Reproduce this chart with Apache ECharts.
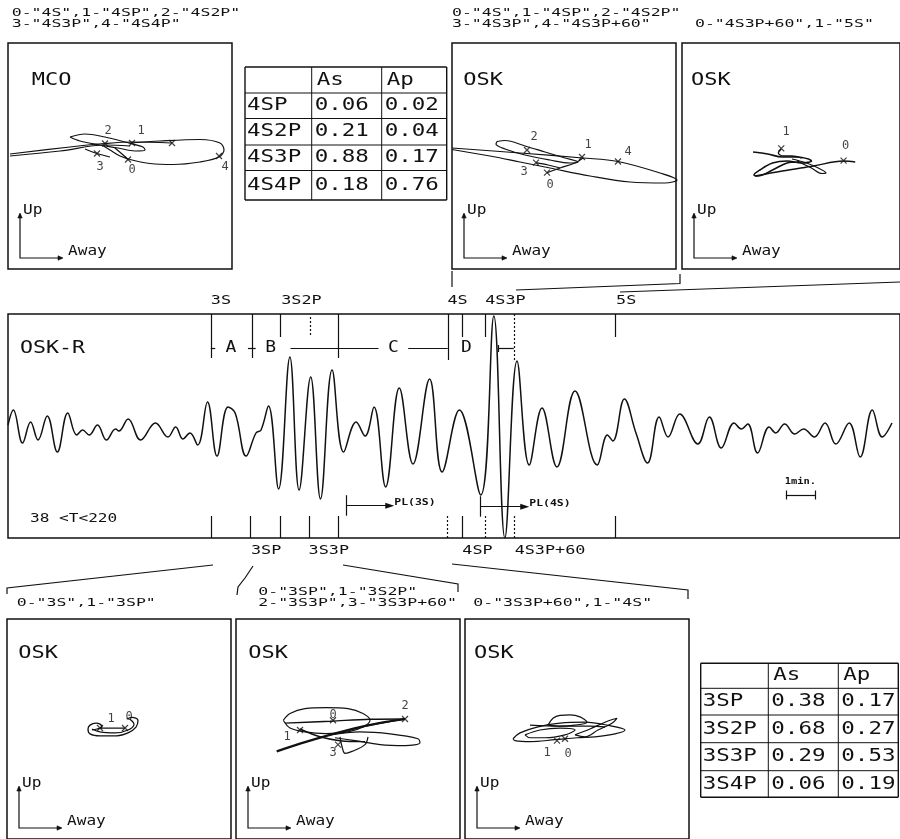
<!DOCTYPE html>
<html><head><meta charset="utf-8">
<script src="https://cdn.jsdelivr.net/npm/echarts@6/dist/echarts.min.js"></script>
<style>html,body{margin:0;padding:0;background:#fff}#c{width:900px;height:839px}</style>
</head><body><div id="c"></div>
<script>
const INK = '#111';
const MONO = '"DejaVu Sans Mono", monospace';

// ---------- waveform OSK-R (time in minutes, amplitude arbitrary) ----------
const waveTime = [0,0.18,0.49,0.76,1.01,1.32,1.66,2.01,2.31,2.51,2.73,3.01,3.31,3.62,3.73,4.04,4.46,4.96,5.38,5.64,5.88,6.12,6.38,6.71,7.03,7.40,7.64,8.01,8.34,8.51,8.76,9.10,9.48,9.79,10.18,10.51,10.90,11.29,11.71,12.01,12.31,12.70,13.16,13.62,14.18,14.60,15.18,15.90,16.34,16.71,17.12,17.53,17.96,18.46,19.07,19.82,20.16,20.34,20.73,21.12,21.51,21.90,22.20,22.59,23.20,23.59,23.99,24.42,24.66,24.88,25.21,25.60,25.82,26.12,26.46,26.76,27.12,27.48,27.84,28.29,28.66,29.07,29.40,29.73];
const waveAmp = [-0.2,1.3,-2.0,0.1,-1.7,0.7,-2.9,1.0,-1.2,-0.7,-1.2,-0.2,-1.7,-0.6,-0.8,0.4,-1.7,0.0,-1.4,-0.4,-1.6,-1.0,-2.2,2.1,-3.3,1.6,1.0,-3.3,-1.0,-0.7,1.7,-6.6,6.6,-6.7,4.6,-7.6,5.3,-2.9,0.1,-1.3,1.6,-6.4,3.5,-4.1,4.4,-4.9,1.3,-7.2,10.7,-11.5,6.2,-4.2,1.5,-4.4,3.2,-4.2,-1.2,-1.8,2.4,-1.0,-4.0,0.6,-1.4,0.9,-2.1,0.6,-2.5,0.0,-0.6,-0.1,-3.0,-0.4,-1.0,-0.1,-1.1,-0.6,-1.4,0.0,-2.1,0.0,-3.4,1.3,-1.4,0.0];

// phase ticks
const topTickTime  = [6.82, 8.20, 9.16, 10.16, 11.12, 14.79, 15.29, 16.04, 17.01, 20.42];
const topTickStart = [10.9, 10.9, 10.9, 10.6, 10.9, 10.9, 10.9, 10.9, 10.9, 10.9];
const topTickEnd   = [6.5, 6.5, 8.6, 8.6, 6.5, 6.3, 8.6, 8.6, 6.1, 8.6];
const topTickDash  = [0,0,0,1,0,0,0,0,1,0];
const botTickTime  = [6.82, 8.16, 9.16, 10.12, 11.12, 14.76, 15.27, 16.04, 17.01, 20.42];
const botTickDash  = [0,0,0,0,0,1,0,1,1,0];
const topLabelText = ['3S','3S2P','4S','4S3P','5S'];
const topLabelTime = [7.16, 9.87, 15.12, 16.73, 20.79];
const botLabelText = ['3SP','3S3P','4SP','4S3P+60'];
const botLabelTime = [8.68, 10.79, 15.79, 18.23];
const segLabelText = ['A','B','C','D'];
const segLabelTime = [7.5, 8.83, 12.96, 15.42];
const segStart = [6.82, 8.07, 9.50, 13.46, 16.49];
const segEnd   = [6.97, 8.33, 12.46, 14.79, 17.01];
const plText  = ['PL(3S)','PL(4S)'];
const plStart = [11.37, 15.88];
const plEnd   = [12.84, 17.38];
const plAmp   = [-8.27, -8.37];
const scaleBar = [26.16, 27.14]; // 1 min

// ---------- particle motion (Away, Up) ----------
const mcoTrace1 = [[-110,2],[-50,9],[-15,12.5],[12,14],[52,13]];
const mcoTrace2 = [[-110,0],[-60,5],[-15,11],[10,10]];
const mcoLoop = [[11,13],[40,15],[80,16.5],[100,13],[104,6],[99,-1],[80,-6],[53,-8.5],[30,-7.5],[12,-4],[0,0],[-10,6],[-18,11]];
const mcoSmall = [[-50,19],[-35,22],[-15,19],[5,14],[23,9],[25,6],[15,5],[-2,8],[-20,11],[-40,15],[-50,19]];
const mcoTail = [[-5,8],[2,2],[8,-3.5]];
const mcoTail2 = [[-35,7],[-23,2.5],[-10,-1]];
const mcoMarks = [[8,-3.5],[12,13],[-15,12.5],[-23,2.5],[99,0],[52,13]];
const mcoLabelPos = [[-12,25],[21,25],[-20,-11],[12,-14],[105,-11]];
const mcoLabelText = ['2','1','3','0','4'];

const osk1Outer = [[-112,8],[-44,3],[19,-2],[54,-5.5],[96,-17],[113,-24],[101,-27],[66,-26],[26,-20],[-14,-12],[-44,-6],[-74,0],[-112,6.5]];
const osk1Small = [[-67,14.5],[-59,15.5],[-39,10],[-19,4],[1,-2],[14,-6],[6,-7],[-14,-4],[-39,1],[-59,7],[-68,12],[-67,14.5]];
const osk1Tail = [[-17,-16.7],[-4,-12],[11,-7],[19,-2]];
const osk1Tail2 = [[-28,-6.7],[-16,-9],[-4,-12]];
const osk1Marks = [[-37,6],[18,-1],[54,-5.5],[-28,-6.7],[-17,-16.7]];
const osk1LabelPos = [[-30,19],[24,11],[64,4],[-40,-16],[-14,-29]];
const osk1LabelText = ['2','1','4','3','0'];

const osk2A = [[-39,4],[-24,2],[-9,-1],[6,-1],[18,-3],[21,-5],[11,-7],[-4,-5],[-19,-7],[-32,-14],[-38,-19],[-34,-20],[-19,-14],[-4,-7],[6,-6]];
const osk2B = [[-37,-20],[-9,-15],[23,-10],[54,-5],[66,-6]];
const osk2C = [[1,-3],[16,-7],[28,-12],[36,-17],[32,-17.5],[21,-12],[6,-5]];
const osk2D = [[-10,7],[-13,3],[-8,0],[1,0],[11,-2]];
const osk2Marks = [[-10,7.7],[54,-4.7]];
const osk2LabelPos = [[-5,24],[56,10]];
const osk2LabelText = ['1','0'];

const b1Outer = [[7.7,10.3],[13,12],[19,9],[17,2],[9,-4],[-2.3,-7],[-19,-7],[-29,-5],[-31,0],[-29,4],[-23,6],[-19,5],[-17,2],[-22,0],[-27,-1]];
const b1Inner = [[11,10],[15,5],[9,-1],[-4,-4],[-19,-3],[-27,0]];
const b1Line = [[-19,1],[6,1]];
const b1Marks = [[-19,1],[6,1]];
const b1LabelPos = [[-8,10],[10,12]];
const b1LabelText = ['1','0'];

const b2Ellipse = [[-64.7,9],[-58,16],[-43,21],[-22,22],[0,21],[15,16],[22,9],[15,2],[0,-3],[-22,-4.7],[-43,-3],[-58,1],[-64.7,9]];
const b2Thick = [[-71.3,-23],[-48,-15],[-18,-6],[12,2],[42,8],[57,10.3]];
const b2Line0 = [[-63,6],[-18,8],[22,10],[57,10.3]];
const b2LoopR = [[-18,-6],[12,-3],[42,-5],[70,-10],[72,-14],[57,-17],[32,-16],[7,-12],[-13,-9]];
const b2LoopB = [[-8,-8],[-6,-18],[-3,-25],[4,-23],[17,-16],[20,-8]];
const b2Cross = [[-48,0],[-28,-8],[-8,-12],[17,-13]];
const b2Back = [[57,10.3],[22,4],[-13,-5]];
const b2Marks = [[-48,-1],[-15,9],[57,10.3],[-10,-16]];
const b2LabelPos = [[-61,-8],[-15,14],[57,24],[-15,-25]];
const b2LabelText = ['1','0','2','3'];

const b3L1 = [[-64,-10],[-57,-4],[-40,2],[-17,6],[8,7],[30,4],[48,-1],[38,-5],[18,-8],[0,-9],[-22,-11],[-47,-13],[-62,-12],[-64,-10]];
const b3L2 = [[-29,4],[-24,11],[-17,14],[-7,14.5],[3,12.5],[10,7],[-2,4],[-17,3],[-29,4]];
const b3L3 = [[-2,-6],[13,0],[28,7],[40,11],[35,6],[21,-1],[8,-8],[-2,-6]];
const b3L4 = [[-52,-6],[-37,-1],[-17,1],[-2,-1],[-12,-6],[-32,-9],[-47,-9],[-52,-6]];
const b3L5 = [[-47,4],[-17,3],[13,3],[28,2]];
const b3Marks = [[-20,-12],[-12,-10]];
const b3LabelPos = [[-30,-25],[-9,-26]];
const b3LabelText = ['1','0'];

// ---------- tables ----------
const tableHeader = ['', 'As', 'Ap'];
const topRows = ['4SP','4S2P','4S3P','4S4P'];
const topAs = ['0.06','0.21','0.88','0.18'];
const topAp = ['0.02','0.04','0.17','0.76'];
const botRows = ['3SP','3S2P','3S3P','3S4P'];
const botAs = ['0.38','0.68','0.29','0.06'];
const botAp = ['0.17','0.27','0.53','0.19'];

const panelNames = ['MCO','OSK','OSK','OSK','OSK','OSK'];
const titleTexts = ['0-"4S",1-"4SP",2-"4S2P"','3-"4S3P",4-"4S4P"','0-"4S",1-"4SP",2-"4S2P"','3-"4S3P",4-"4S3P+60"','0-"4S3P+60",1-"5S"','0-"3S",1-"3SP"','0-"3SP",1-"3S2P"','2-"3S3P",3-"3S3P+60"','0-"3S3P+60",1-"4S"'];

// ---------- layout ----------
const panelLayout = [{left:8,top:43},{left:452,top:43},{left:682,top:43},{left:7,top:619},{left:236,top:619},{left:465,top:619}];
const PW = 224, PH = 226;
const panelPaths = [
  [[mcoTrace1,1.2],[mcoTrace2,1.2],[mcoLoop,1.2],[mcoSmall,1.2],[mcoTail,1.2],[mcoTail2,1.2]],
  [[osk1Outer,1.2],[osk1Small,1.2],[osk1Tail,1.2],[osk1Tail2,1.2]],
  [[osk2A,1.6],[osk2B,1.4],[osk2C,1.2],[osk2D,1.4]],
  [[b1Outer,1.3],[b1Inner,1.2],[b1Line,1.2]],
  [[b2Ellipse,1.2],[b2Thick,2.2],[b2Line0,1.4],[b2LoopR,1.2],[b2LoopB,1.2],[b2Cross,1.4],[b2Back,1.4]],
  [[b3L1,1.2],[b3L2,1.2],[b3L3,1.2],[b3L4,1.2],[b3L5,1.4]]
];
const panelMarks = [mcoMarks, osk1Marks, osk2Marks, b1Marks, b2Marks, b3Marks];
const panelLabelPos = [mcoLabelPos, osk1LabelPos, osk2LabelPos, b1LabelPos, b2LabelPos, b3LabelPos];
const panelLabelText = [mcoLabelText, osk1LabelText, osk2LabelText, b1LabelText, b2LabelText, b3LabelText];

const chart = echarts.init(document.getElementById('c'));

const grids = [{left:8, top:314, width:900, height:224, show:true, borderColor:INK, borderWidth:1.5, backgroundColor:'transparent'}];
const xAxes = [{gridIndex:0, type:'value', min:0, max:30, show:false}];
const yAxes = [{gridIndex:0, type:'value', min:-11.5, max:10.9, show:false}];
panelLayout.forEach((p,i)=>{
  grids.push({left:p.left, top:p.top, width:PW, height:PH, show:true, borderColor:INK, borderWidth:1.5, backgroundColor:'transparent'});
  xAxes.push({gridIndex:i+1, type:'value', min:-PW/2, max:PW/2, show:false});
  yAxes.push({gridIndex:i+1, type:'value', min:-PH/2, max:PH/2, show:false});
});

// markLine data for the waveform
const ml = [];
const ls = (d, w) => ({color:INK, width:w||1.2, type: d ? [2,2] : 'solid'});
topTickTime.forEach((t,i)=> ml.push([{coord:[t, topTickStart[i]], lineStyle:ls(topTickDash[i])},{coord:[t, topTickEnd[i]], lineStyle:ls(topTickDash[i])}]));
botTickTime.forEach((t,i)=> ml.push([{coord:[t, -9.3], lineStyle:ls(botTickDash[i])},{coord:[t, -11.5], lineStyle:ls(botTickDash[i])}]));
segStart.forEach((s,i)=> ml.push([{coord:[s, 7.47]},{coord:[segEnd[i], 7.47]}]));
ml.push([{coord:[16.49, 7.1]},{coord:[16.49, 7.8]}]);
plStart.forEach((s,i)=>{
  ml.push([{coord:[s, plAmp[i]+1.05]},{coord:[s, plAmp[i]-1.0]}]);
  ml.push([{coord:[s, plAmp[i]], symbol:'none'},{coord:[plEnd[i], plAmp[i]], symbol:'triangle', symbolSize:[6,9]}]);
});
ml.push([{coord:[scaleBar[0], -7.2]},{coord:[scaleBar[1], -7.2]}]);
ml.push([{coord:[scaleBar[0], -6.75]},{coord:[scaleBar[0], -7.65]}]);
ml.push([{coord:[scaleBar[1], -6.75]},{coord:[scaleBar[1], -7.65]}]);

const series = [{
  type:'line', xAxisIndex:0, yAxisIndex:0, data: waveTime.map((t,i)=>[t, waveAmp[i]]),
  smooth:0.4, showSymbol:false, symbol:'none', lineStyle:{color:INK, width:1.5}, silent:true,
  markLine:{silent:true, symbol:['none','none'], label:{show:false}, lineStyle:{color:INK, width:1.2, type:'solid'}, emphasis:{disabled:true}, data: ml}
}];

const XSYM = 'path://M0,0L10,10M10,0L0,10';
panelPaths.forEach((paths, i)=>{
  paths.forEach(([pts, w])=>{
    series.push({type:'line', xAxisIndex:i+1, yAxisIndex:i+1, data:pts, smooth:0.35, showSymbol:false, symbol:'none', silent:true, lineStyle:{color:INK, width:w}});
  });
  series.push({type:'scatter', xAxisIndex:i+1, yAxisIndex:i+1, data:panelMarks[i], symbol:XSYM, symbolSize:6, silent:true,
    itemStyle:{color:INK, borderColor:INK, borderWidth:1.2}});
  series.push({type:'scatter', xAxisIndex:i+1, yAxisIndex:i+1, silent:true, symbolSize:0,
    data: panelLabelPos[i].map((p,k)=>({value:p, name:panelLabelText[i][k]})),
    label:{show:true, position:'inside', formatter:'{b}', color:INK, fontFamily:MONO, fontSize:12}});
});

chart.setOption({animation:false, backgroundColor:'#fff', grid:grids, xAxis:xAxes, yAxis:yAxes, series:series});

// ---------- text and furniture ----------
function T(x, y, s, size, sx, align, weight){
  return {type:'text', x:x, y:y, scaleX:sx, silent:true, z:10,
    style:{text:s, fontFamily:MONO, fontSize:size, fontWeight:weight||'normal', fill:INK, textAlign:align||'left', textVerticalAlign:'middle'}};
}
function L(points, w, dash){
  return {type:'polyline', silent:true, z:10, shape:{points:points}, style:{stroke:INK, lineWidth:w||1.2, fill:null, lineDash:dash||null}};
}
function TRI(points){ return {type:'polygon', silent:true, z:10, shape:{points:points}, style:{fill:INK, stroke:INK, lineWidth:0.6}}; }
const wp = (t,a) => chart.convertToPixel({xAxisIndex:0, yAxisIndex:0}, [t,a]);

const g = [];
// waveform labels
topLabelText.forEach((s,i)=>{ const p = wp(topLabelTime[i], 12.2); g.push(T(p[0], p[1], s, 12, 1.4, 'center')); });
botLabelText.forEach((s,i)=>{ const p = wp(botLabelTime[i], -12.8); g.push(T(p[0], p[1], s, 12, 1.4, 'center')); });
segLabelText.forEach((s,i)=>{ const p = wp(segLabelTime[i], 7.47); g.push(T(p[0], p[1], s, 15, 1.2, 'center')); });
plText.forEach((s,i)=>{ const p = wp(plEnd[i]+0.15, plAmp[i]+0.3); g.push(T(p[0], p[1], s, 8.5, 1.35, 'left', 'bold')); });
{ const p = wp((scaleBar[0]+scaleBar[1])/2, -5.9); g.push(T(p[0], p[1], '1min.', 8, 1.3, 'center', 'bold')); }
g.push(T(20, 348, 'OSK-R', 18, 1.2));
g.push(T(30, 519, '38 <T<220', 11.5, 1.4));

// panel titles
const titlePos = [[11.7,13.3],[11.7,24.3],[452,13.3],[452,24.3],[695,24.3],[16.7,603.3],[258.3,592.6],[258.3,603],[473.3,603.3]];
titleTexts.forEach((s,i)=> g.push(T(titlePos[i][0], titlePos[i][1], s, 11, 1.5)));

// panel names and Up/Away axes
const nameDx = [23.7, 11.3, 9, 11.3, 12.3, 9];
panelLayout.forEach((p,i)=>{
  g.push(T(p.left + nameDx[i], p.top + (i<3?37:34), panelNames[i], 18, 1.22));
  const x = p.left + 12, yT = p.top + (i<3?171:168), yB = p.top + (i<3?215:209);
  g.push(L([[x,yT],[x,yB],[x+42,yB]], 1.2));
  g.push(TRI([[x-2.2,yT+4],[x,yT-1],[x+2.2,yT+4]]));
  g.push(TRI([[x+38,yB-2.2],[x+43,yB],[x+38,yB+2.2]]));
  g.push(T(x+3, yT-4, 'Up', 14, 1.15));
  g.push(T(x+48, yB-7, 'Away', 14, 1.15));
});

// tables
function table(cols, rows, names, as, ap){
  cols.forEach((c,k)=> g.push(L([[c,rows[0]],[c,rows[rows.length-1]]], k===0||k===cols.length-1?1.4:1)));
  rows.forEach((r,k)=> g.push(L([[cols[0],r],[cols[cols.length-1],r]], k===0||k===rows.length-1?1.4:1)));
  const mid = k => (rows[k]+rows[k+1])/2;
  tableHeader.forEach((h,j)=>{ if(h) g.push(T(cols[j]+5, mid(0), h, 18, 1.25)); });
  names.forEach((n,k)=>{
    g.push(T(cols[0]+2, mid(k+1), n, 18, 1.25));
    g.push(T(cols[1]+3, mid(k+1), as[k], 18, 1.25));
    g.push(T(cols[2]+3, mid(k+1), ap[k], 18, 1.25));
  });
}
table([245,311.7,381.7,446.7],[67,93,118.5,145,170.5,200], topRows, topAs, topAp);
table([700.7,768.3,838.3,898.3],[663.3,688.3,715,742.7,770.7,797.3], botRows, botAs, botAp);

// connectors between trace and particle-motion panels
g.push(L([[452,271],[452,287]]));
g.push(L([[516,290],[680,283.5],[680,274]]));
g.push(L([[620,292],[900,282]]));
g.push(L([[7,594],[7,588],[213,565]]));
g.push(L([[237,595],[238,587],[245,578],[253,566]]));
g.push(L([[343,565],[458,584],[458,592]]));
g.push(L([[452,564],[688,590],[688,599]]));

chart.setOption({graphic: g});
</script></body></html>
